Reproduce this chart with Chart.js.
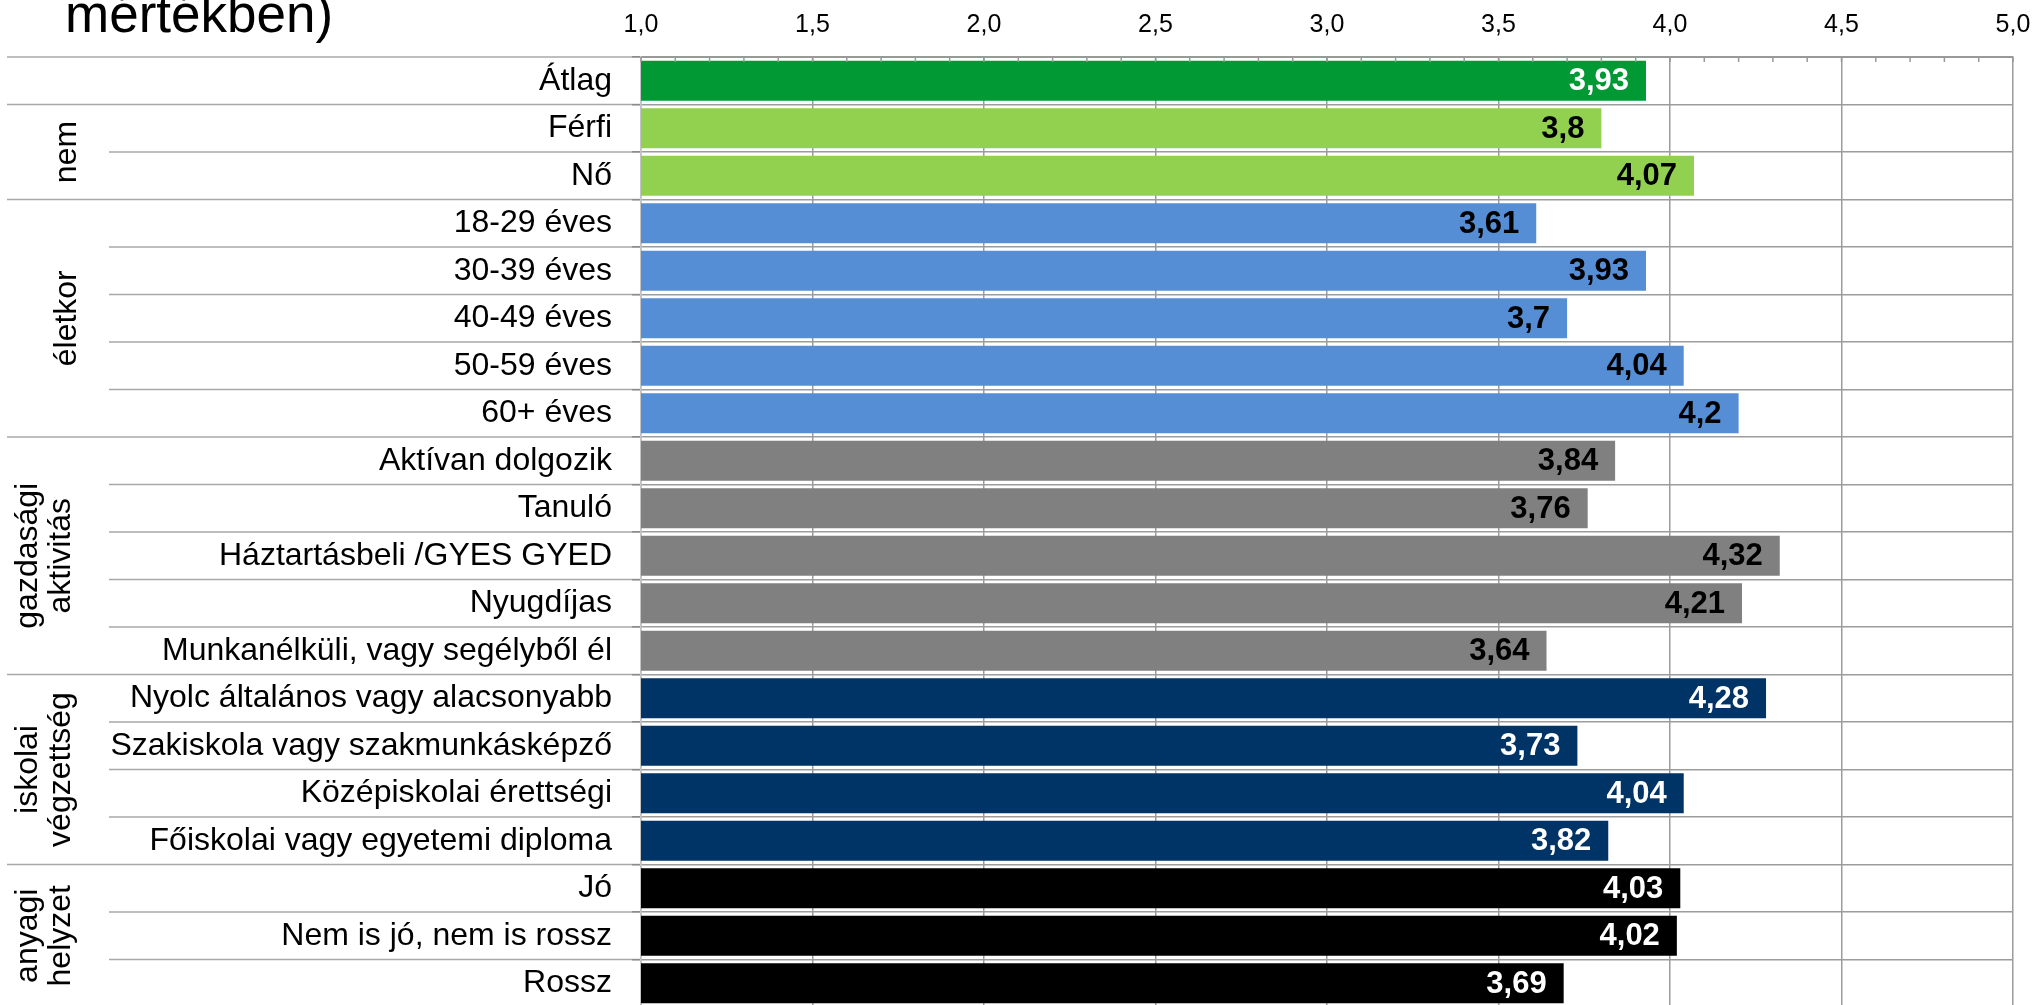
<!DOCTYPE html>
<html lang="hu">
<head>
<meta charset="utf-8">
<script src="https://cdn.jsdelivr.net/npm/chart.js@4/dist/chart.umd.min.js"></script>
<style>
  html, body { margin: 0; padding: 0; background: #ffffff; overflow: hidden; }
  #chart { display: block; }
</style>
</head>
<body>
<canvas id="chart" width="2036" height="1007"></canvas>
<script>
// Átlagos pontszámok csoportonként (1–5 skála)
const categories = [
  'Átlag',
  'Férfi', 'Nő',
  '18-29 éves', '30-39 éves', '40-49 éves', '50-59 éves', '60+ éves',
  'Aktívan dolgozik', 'Tanuló', 'Háztartásbeli /GYES GYED', 'Nyugdíjas',
  'Munkanélküli, vagy segélyből él',
  'Nyolc általános vagy alacsonyabb', 'Szakiskola vagy szakmunkásképző',
  'Középiskolai érettségi', 'Főiskolai vagy egyetemi diploma',
  'Jó', 'Nem is jó, nem is rossz', 'Rossz'
];
const values = [
  3.93,
  3.8, 4.07,
  3.61, 3.93, 3.7, 4.04, 4.2,
  3.84, 3.76, 4.32, 4.21, 3.64,
  4.28, 3.73, 4.04, 3.82,
  4.03, 4.02, 3.69
];

// Csoportok: felirat sorai és a csoportba tartozó kategóriák száma
const groupNames = [[], ['nem'], ['életkor'], ['gazdasági', 'aktivitás'], ['iskolai', 'végzettség'], ['anyagi', 'helyzet']];
const groupSizes = [1, 2, 5, 5, 4, 3];
const groupBarColors = ['#009933', '#92D050', '#558ED5', '#808080', '#003366', '#000000'];
const groupValueColors = ['#ffffff', '#000000', '#000000', '#000000', '#ffffff', '#ffffff'];

// Skála
const axisMin = 1;
const axisMax = 5;
const axisStep = 0.5;
const minorStep = 0.1;

const titleLine = 'mértékben)';

const FONT = '"Liberation Sans", Arial, Helvetica, sans-serif';
const GRID = '#9c9c9c';

// kategória -> csoport index
const groupOf = [];
groupSizes.forEach((n, g) => { for (let k = 0; k < n; k++) groupOf.push(g); });

const fmtComma = v => String(v).replace('.', ',');

const decorPlugin = {
  id: 'decor',
  beforeDraw(chart) {
    // elválasztó vonalak a feliratsávban
    const { ctx, chartArea } = chart;
    const y = chart.scales.y;
    const step = y.getPixelForValue(1) - y.getPixelForValue(0);
    const groupEdges = new Set();
    let acc = 0;
    groupSizes.forEach(n => { groupEdges.add(acc); acc += n; });
    groupEdges.add(acc);
    ctx.save();
    ctx.strokeStyle = '#a8a8a8';
    ctx.lineWidth = 1.5;
    for (let i = 0; i <= categories.length; i++) {
      const py = y.getPixelForValue(i) - step / 2;
      const x0 = groupEdges.has(i) ? 7 : 109;
      ctx.beginPath();
      ctx.moveTo(x0, py);
      ctx.lineTo(chartArea.left, py);
      ctx.stroke();
    }
    ctx.restore();
  },
  afterDatasetsDraw(chart) {
    const { ctx, chartArea } = chart;
    const x = chart.scales.x;
    ctx.save();
    // apró osztásjelek a felső tengelyen
    ctx.strokeStyle = '#999999';
    ctx.lineWidth = 1.5;
    const nMinor = Math.round((axisMax - axisMin) / minorStep);
    for (let k = 0; k <= nMinor; k++) {
      const px = x.getPixelForValue(axisMin + k * minorStep);
      ctx.beginPath();
      ctx.moveTo(px, chartArea.top);
      ctx.lineTo(px, chartArea.top + 5);
      ctx.stroke();
    }
    // értékfeliratok a sávok végén
    const meta = chart.getDatasetMeta(0);
    ctx.font = 'bold 31px ' + FONT;
    ctx.textAlign = 'right';
    ctx.textBaseline = 'middle';
    meta.data.forEach((bar, i) => {
      ctx.fillStyle = groupValueColors[groupOf[i]];
      ctx.fillText(fmtComma(values[i]), bar.x - 17, bar.y + 1);
    });
    ctx.restore();
  },
  afterDraw(chart) {
    const { ctx } = chart;
    const y = chart.scales.y;
    const step = y.getPixelForValue(1) - y.getPixelForValue(0);
    ctx.save();
    ctx.fillStyle = '#000000';
    // cím utolsó sora
    ctx.font = '53px ' + FONT;
    ctx.textAlign = 'left';
    ctx.textBaseline = 'alphabetic';
    ctx.fillText(titleLine, 65, 32);
    // elforgatott csoportfeliratok
    ctx.font = '32px ' + FONT;
    ctx.textAlign = 'center';
    let start = 0;
    groupSizes.forEach((n, g) => {
      const lines = groupNames[g];
      const top = y.getPixelForValue(start) - step / 2;
      const bottom = y.getPixelForValue(start + n - 1) + step / 2;
      const cy = (top + bottom) / 2;
      const baselines = lines.length === 1 ? [76] : [37, 70];
      lines.forEach((txt, li) => {
        ctx.save();
        ctx.translate(baselines[li], cy);
        ctx.rotate(-Math.PI / 2);
        ctx.fillText(txt, 0, 0);
        ctx.restore();
      });
      start += n;
    });
    ctx.restore();
  }
};

new Chart(document.getElementById('chart'), {
  type: 'bar',
  data: {
    labels: categories,
    datasets: [{
      data: values,
      backgroundColor: groupOf.map(g => groupBarColors[g]),
      borderWidth: 0,
      barPercentage: 0.84,
      categoryPercentage: 1
    }]
  },
  options: {
    indexAxis: 'y',
    responsive: false,
    devicePixelRatio: 1,
    animation: false,
    layout: { autoPadding: false, padding: { left: 0, right: 23, top: 0, bottom: 0 } },
    plugins: {
      legend: { display: false },
      tooltip: { enabled: false },
      title: { display: false }
    },
    scales: {
      x: {
        position: 'top',
        min: axisMin,
        max: axisMax,
        ticks: {
          stepSize: axisStep,
          color: '#000000',
          font: { size: 25, family: FONT },
          padding: 17,
          callback: v => Number(v).toFixed(1).replace('.', ',')
        },
        grid: { color: GRID, lineWidth: 1.5, drawTicks: false },
        border: { color: '#999999', width: 2 },
        afterFit: s => {
          s.height = 57;
          // a szélső feliratok a margóban elférnek
          s.paddingLeft = 0;
          s.paddingRight = 0;
        }
      },
      y: {
        ticks: {
          color: '#000000',
          font: { size: 32, family: FONT },
          padding: 20,
          autoSkip: false
        },
        grid: { color: GRID, lineWidth: 1.5, tickColor: '#8c8c8c', tickLength: 9, offset: true },
        border: { color: '#c4c4c4', width: 1.5 },
        afterFit: s => {
          s.width = 641;
          // a sorok a rajzterület teljes magasságát kitöltik
          s.paddingTop = 0;
          s.paddingBottom = 0;
        }
      }
    }
  },
  plugins: [decorPlugin]
});
</script>
</body>
</html>
